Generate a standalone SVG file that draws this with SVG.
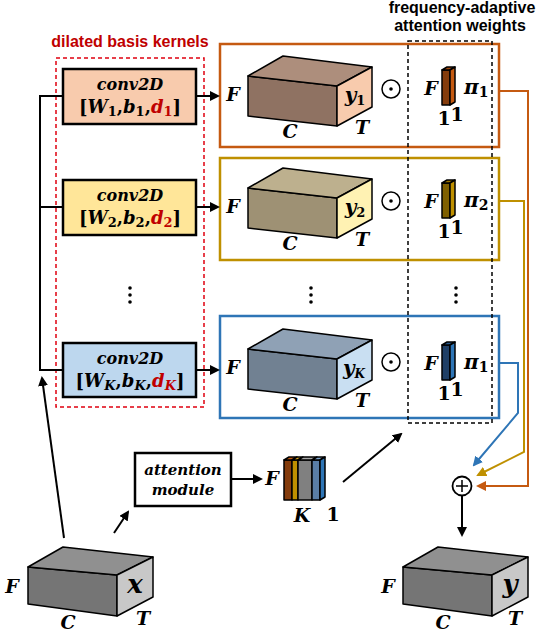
<svg xmlns="http://www.w3.org/2000/svg" width="538" height="632" viewBox="0 0 538 632">
<defs>
<style>
.m{font-family:"DejaVu Serif","Liberation Serif",serif;font-weight:bold;font-style:italic;fill:#000}
.u{font-family:"DejaVu Serif","Liberation Serif",serif;font-weight:bold;font-style:normal}
.s{font-family:"Liberation Sans",Arial,sans-serif;font-weight:bold}
.e{stroke:#000;stroke-width:1.5;stroke-linejoin:round}
.ln{fill:none;stroke:#000;stroke-width:2}
.box{stroke:#000;stroke-width:2.5}
.red{fill:#C00000}
.dot{fill:#000}
</style>
<marker id="ab" viewBox="0 0 10 10" refX="8" refY="5" markerWidth="10" markerHeight="10" markerUnits="userSpaceOnUse" orient="auto"><path d="M0,0 L10,5 L0,10 z" fill="#000"/></marker>
<marker id="ao" viewBox="0 0 10 10" refX="8" refY="5" markerWidth="10" markerHeight="10" markerUnits="userSpaceOnUse" orient="auto"><path d="M0,0 L10,5 L0,10 z" fill="#C55A11"/></marker>
<marker id="ay" viewBox="0 0 10 10" refX="8" refY="5" markerWidth="10" markerHeight="10" markerUnits="userSpaceOnUse" orient="auto"><path d="M0,0 L10,5 L0,10 z" fill="#BF9000"/></marker>
<marker id="abl" viewBox="0 0 10 10" refX="8" refY="5" markerWidth="10" markerHeight="10" markerUnits="userSpaceOnUse" orient="auto"><path d="M0,0 L10,5 L0,10 z" fill="#2E75B6"/></marker>
</defs>
<rect width="538" height="632" fill="#fff"/>

<!-- titles -->
<text class="s" x="130" y="47" font-size="16" fill="#C00000" text-anchor="middle">dilated basis kernels</text>
<text class="s" x="462" y="13" font-size="16" fill="#000" text-anchor="middle">frequency-adaptive</text>
<text class="s" x="460" y="31" font-size="16" fill="#000" text-anchor="middle">attention weights</text>

<!-- dilated kernels group -->
<g id="kernels">
<rect x="56" y="58" width="148" height="349" fill="none" stroke="#E0000F" stroke-width="1.5" stroke-dasharray="4 3"/>
</g>

<!-- frames -->
<g id="frames">
<rect x="220" y="44" width="279" height="103" fill="none" stroke="#C55A11" stroke-width="2.5"/>
<rect x="220" y="158" width="279" height="102" fill="none" stroke="#BF9000" stroke-width="2.5"/>
<rect x="220" y="316" width="279" height="102" fill="none" stroke="#2E75B6" stroke-width="2.5"/>
</g>

<!-- conv nodes -->
<g id="conv1">
<rect class="box" x="63" y="69" width="133" height="55" fill="#F8CBAD"/>
<text class="m" x="130" y="90" font-size="16" text-anchor="middle">conv2D</text>
<text x="130" y="113" font-size="18" text-anchor="middle"><tspan class="u">[</tspan><tspan class="m">W</tspan><tspan class="u" font-size="13" dy="3">1</tspan><tspan class="u" dy="-3">,</tspan><tspan class="m">b</tspan><tspan class="u" font-size="13" dy="3">1</tspan><tspan class="u" dy="-3">,</tspan><tspan class="m red">d</tspan><tspan class="u red" font-size="13" dy="3">1</tspan><tspan class="u" dy="-3">]</tspan></text>
</g>
<g id="conv2">
<rect class="box" x="63" y="180" width="133" height="55" fill="#FFE699"/>
<text class="m" x="130" y="201" font-size="16" text-anchor="middle">conv2D</text>
<text x="130" y="224" font-size="18" text-anchor="middle"><tspan class="u">[</tspan><tspan class="m">W</tspan><tspan class="u" font-size="13" dy="3">2</tspan><tspan class="u" dy="-3">,</tspan><tspan class="m">b</tspan><tspan class="u" font-size="13" dy="3">2</tspan><tspan class="u" dy="-3">,</tspan><tspan class="m red">d</tspan><tspan class="u red" font-size="13" dy="3">2</tspan><tspan class="u" dy="-3">]</tspan></text>
</g>
<g id="convK">
<rect class="box" x="63" y="343" width="133" height="54" fill="#BDD7EE"/>
<text class="m" x="130" y="364" font-size="16" text-anchor="middle">conv2D</text>
<text x="130" y="387" font-size="18" text-anchor="middle"><tspan class="u">[</tspan><tspan class="m">W</tspan><tspan class="m" font-size="13" dy="3">K</tspan><tspan class="u" dy="-3">,</tspan><tspan class="m">b</tspan><tspan class="m" font-size="13" dy="3">K</tspan><tspan class="u" dy="-3">,</tspan><tspan class="m red">d</tspan><tspan class="m red" font-size="13" dy="3">K</tspan><tspan class="u" dy="-3">]</tspan></text>
</g>
<g id="dots-left" class="dot">
<circle cx="130" cy="288" r="1.8"/><circle cx="130" cy="295" r="1.8"/><circle cx="130" cy="302" r="1.8"/>
</g>

<!-- branch 1 -->
<g id="y1">
<path class="e" d="M248,76 L337,86 L337,126 L248,116 Z" fill="#8F7262"/>
<path class="e" d="M248,76 L283,56 L372,67 L337,86 Z" fill="#AD8E7C"/>
<path class="e" d="M337,86 L372,67 L372,107 L337,126 Z" fill="#F8CBAD"/>
<text class="m" x="233" y="101" font-size="19" text-anchor="middle">F</text>
<text class="m" x="290" y="138" font-size="19" text-anchor="middle">C</text>
<text class="m" x="362" y="134" font-size="19" text-anchor="middle">T</text>
<text x="355" y="102" font-size="20" text-anchor="middle"><tspan class="m">y</tspan><tspan class="u" font-size="13" dy="3">1</tspan></text>
<circle cx="391" cy="89" r="9" fill="none" stroke="#000" stroke-width="1.5"/><circle cx="391" cy="89" r="1.8"/>
</g>
<g id="pi1">
<path class="e" d="M442,70 L450,70 L450,105 L442,105 Z" fill="#843C0C"/>
<path class="e" d="M442,70 L447,67 L455,67 L450,70 Z" fill="#A04A10"/>
<path class="e" d="M450,70 L455,67 L455,102 L450,105 Z" fill="#C55A11"/>
<text class="m" x="431" y="95" font-size="19" text-anchor="middle">F</text>
<text x="464" y="94" font-size="20"><tspan class="m">π</tspan><tspan class="u" font-size="14" dy="3">1</tspan></text>
<text class="u" x="444" y="125" font-size="19" text-anchor="middle">1</text>
<text class="u" x="457" y="121" font-size="19" text-anchor="middle">1</text>
</g>

<!-- branch 2 -->
<g id="y2" transform="translate(0,112)">
<path class="e" d="M248,76 L337,86 L337,126 L248,116 Z" fill="#9E9174"/>
<path class="e" d="M248,76 L283,56 L372,67 L337,86 Z" fill="#BDB08E"/>
<path class="e" d="M337,86 L372,67 L372,107 L337,126 Z" fill="#FFF2B3"/>
<text class="m" x="233" y="101" font-size="19" text-anchor="middle">F</text>
<text class="m" x="290" y="138" font-size="19" text-anchor="middle">C</text>
<text class="m" x="362" y="134" font-size="19" text-anchor="middle">T</text>
<text x="355" y="102" font-size="20" text-anchor="middle"><tspan class="m">y</tspan><tspan class="u" font-size="13" dy="3">2</tspan></text>
<circle cx="391" cy="89" r="9" fill="none" stroke="#000" stroke-width="1.5"/><circle cx="391" cy="89" r="1.8"/>
</g>
<g id="pi2" transform="translate(0,113)">
<path class="e" d="M442,70 L450,70 L450,105 L442,105 Z" fill="#7F6000"/>
<path class="e" d="M442,70 L447,67 L455,67 L450,70 Z" fill="#A07800"/>
<path class="e" d="M450,70 L455,67 L455,102 L450,105 Z" fill="#BF9000"/>
<text class="m" x="431" y="95" font-size="19" text-anchor="middle">F</text>
<text x="464" y="94" font-size="20"><tspan class="m">π</tspan><tspan class="u" font-size="14" dy="3">2</tspan></text>
<text class="u" x="444" y="125" font-size="19" text-anchor="middle">1</text>
<text class="u" x="457" y="121" font-size="19" text-anchor="middle">1</text>
</g>

<g id="dots-mid" class="dot">
<circle cx="311" cy="288" r="1.8"/><circle cx="311" cy="295" r="1.8"/><circle cx="311" cy="302" r="1.8"/>
<circle cx="456" cy="288" r="1.8"/><circle cx="456" cy="295" r="1.8"/><circle cx="456" cy="302" r="1.8"/>
</g>

<!-- branch K -->
<g id="yK" transform="translate(0,273)">
<path class="e" d="M248,76 L337,86 L337,126 L248,116 Z" fill="#718192"/>
<path class="e" d="M248,76 L283,56 L372,67 L337,86 Z" fill="#8FA1B5"/>
<path class="e" d="M337,86 L372,67 L372,107 L337,126 Z" fill="#C9DFF2"/>
<text class="m" x="233" y="101" font-size="19" text-anchor="middle">F</text>
<text class="m" x="290" y="138" font-size="19" text-anchor="middle">C</text>
<text class="m" x="362" y="134" font-size="19" text-anchor="middle">T</text>
<text x="354" y="102" font-size="20" text-anchor="middle"><tspan class="m">y</tspan><tspan class="m" font-size="12" dy="3">K</tspan></text>
<circle cx="391" cy="89" r="9" fill="none" stroke="#000" stroke-width="1.5"/><circle cx="391" cy="89" r="1.8"/>
</g>
<g id="piK" transform="translate(0,275)">
<path class="e" d="M442,70 L450,70 L450,105 L442,105 Z" fill="#1F3F66"/>
<path class="e" d="M442,70 L447,67 L455,67 L450,70 Z" fill="#28598C"/>
<path class="e" d="M450,70 L455,67 L455,102 L450,105 Z" fill="#2E75B6"/>
<text class="m" x="431" y="95" font-size="19" text-anchor="middle">F</text>
<text x="464" y="94" font-size="20"><tspan class="m">π</tspan><tspan class="u" font-size="14" dy="3">1</tspan></text>
<text class="u" x="444" y="125" font-size="19" text-anchor="middle">1</text>
<text class="u" x="457" y="121" font-size="19" text-anchor="middle">1</text>
</g>

<!-- attention weights dashed box -->
<g id="weights">
<rect x="408" y="41" width="84" height="382" fill="none" stroke="#000" stroke-width="1.5" stroke-dasharray="4 3"/>
</g>

<!-- attention module -->
<g id="attention">
<rect x="135" y="453" width="96" height="53" fill="#fff" stroke="#000" stroke-width="2.5"/>
<text class="m" x="183" y="475" font-size="15" text-anchor="middle">attention</text>
<text class="m" x="183" y="495" font-size="15" text-anchor="middle">module</text>
</g>

<!-- attention weights stack -->
<g id="stack">
<path class="e" d="M284,460 L292,460 L292,500 L284,500 Z" fill="#843C0C"/>
<path class="e" d="M292,460 L298,460 L298,500 L292,500 Z" fill="#BF9000"/>
<path class="e" d="M298,460 L312,460 L312,500 L298,500 Z" fill="#808080"/>
<path class="e" d="M312,460 L320,460 L320,500 L312,500 Z" fill="#5A7EA6"/>
<path class="e" d="M284,460 L289,457 L297,457 L292,460 Z" fill="#C55A11"/>
<path class="e" d="M292,460 L297,457 L303,457 L298,460 Z" fill="#D9A520"/>
<path class="e" d="M298,460 L303,457 L317,457 L312,460 Z" fill="#A6A6A6"/>
<path class="e" d="M312,460 L317,457 L325,457 L320,460 Z" fill="#7FA4CC"/>
<path class="e" d="M320,460 L325,457 L325,497 L320,500 Z" fill="#2E75B6"/>
<text class="m" x="272" y="485" font-size="19" text-anchor="middle">F</text>
<text class="m" x="302" y="522" font-size="19" text-anchor="middle">K</text>
<text class="u" x="333" y="521" font-size="19" text-anchor="middle">1</text>
</g>

<!-- input x -->
<g id="x">
<path class="e" d="M28,567 L117,575 L117,616 L28,604 Z" fill="#757575"/>
<path class="e" d="M28,567 L63,547 L153,557 L117,575 Z" fill="#909090"/>
<path class="e" d="M117,575 L153,557 L153,597 L117,616 Z" fill="#C8C8C8"/>
<text class="m" x="12" y="593" font-size="19" text-anchor="middle">F</text>
<text class="m" x="68" y="629" font-size="19" text-anchor="middle">C</text>
<text class="m" x="143" y="625" font-size="19" text-anchor="middle">T</text>
<text class="m" x="135" y="593" font-size="26" text-anchor="middle">x</text>
</g>

<!-- output y -->
<g id="y" transform="translate(375,0)">
<path class="e" d="M28,567 L117,575 L117,616 L28,604 Z" fill="#757575"/>
<path class="e" d="M28,567 L63,547 L153,557 L117,575 Z" fill="#909090"/>
<path class="e" d="M117,575 L153,557 L153,597 L117,616 Z" fill="#C8C8C8"/>
<text class="m" x="13" y="593" font-size="19" text-anchor="middle">F</text>
<text class="m" x="68" y="629" font-size="19" text-anchor="middle">C</text>
<text class="m" x="140" y="625" font-size="19" text-anchor="middle">T</text>
<text class="m" x="135" y="593" font-size="26" text-anchor="middle">y</text>
</g>

<!-- sum node -->
<g id="sum">
<circle cx="462" cy="486" r="9.5" fill="#fff" stroke="#000" stroke-width="1.8"/>
<path d="M456,486 L468,486 M462,480 L462,492" stroke="#000" stroke-width="1.5"/>
</g>

<!-- connectors -->
<g id="connectors">
<path class="ln" d="M63,96 L40,96 L40,370 L63,370 M40,207 L63,207"/>
<path class="ln" d="M196,96 L218,96" marker-end="url(#ab)"/>
<path class="ln" d="M196,207 L218,207" marker-end="url(#ab)"/>
<path class="ln" d="M196,370 L218,370" marker-end="url(#ab)"/>
<path class="ln" d="M64,538 L42,378" marker-end="url(#ab)"/>
<path class="ln" d="M114,533 L128,512" marker-end="url(#ab)"/>
<path class="ln" d="M231,479 L261,479" marker-end="url(#ab)"/>
<path class="ln" d="M343,482 L401,434" marker-end="url(#ab)"/>
<path class="ln" d="M462,496 L462,535" marker-end="url(#ab)"/>
<path d="M499,91 L528,91 L528,486 L478,486" fill="none" stroke="#C55A11" stroke-width="2" marker-end="url(#ao)"/>
<path d="M499,201 L524,201 L524,452 L478,475" fill="none" stroke="#BF9000" stroke-width="2" marker-end="url(#ay)"/>
<path d="M499,363 L518,363 L518,413 L474,465" fill="none" stroke="#2E75B6" stroke-width="2" marker-end="url(#abl)"/>
</g>
</svg>
